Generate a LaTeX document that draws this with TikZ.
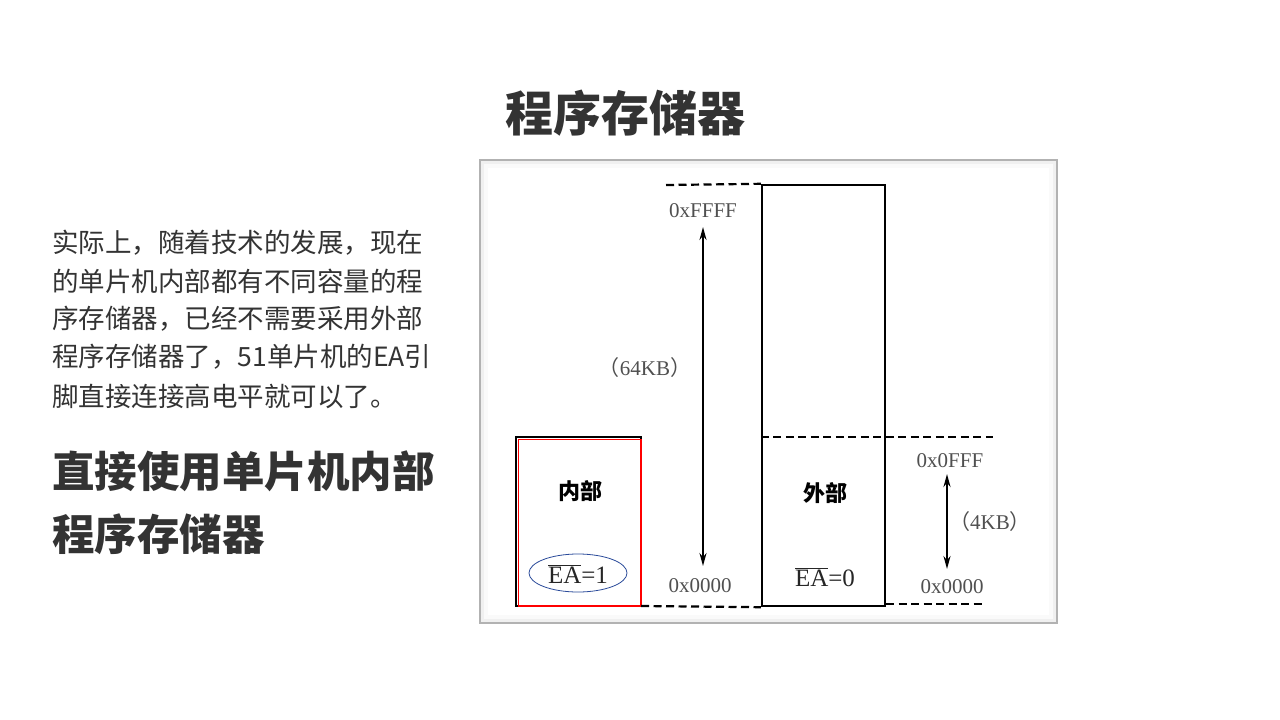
\documentclass[tikz,border=0pt]{standalone}
\usepackage{fontspec}
\usetikzlibrary{shapes.geometric,arrows.meta}
\setmainfont{Liberation Serif}
\newfontfamily\cjk{Noto Sans CJK SC}
\definecolor{slidetext}{HTML}{333333}
\definecolor{labelgray}{HTML}{505050}
\definecolor{ringblue}{HTML}{2A4A9A}
\begin{document}
\begin{tikzpicture}[>={Stealth[length=13pt,width=7pt]},x=1pt,y=-1pt,every node/.style={inner sep=0pt},
  bodyline/.style={anchor=west,text=slidetext,font=\cjk\fontsize{26.5}{30}\selectfont},
  headline/.style={anchor=west,text=slidetext,font=\cjk\bfseries\fontsize{42.5}{48}\selectfont},
  addr/.style={text=labelgray,font=\fontsize{21}{24}\selectfont},
  region/.style={font=\cjk\bfseries\fontsize{22}{24}\selectfont},
  memrange/.style={line width=2pt,<->},
  boundary/.style={line width=2.2pt,dash pattern=on 8pt off 4.5pt}]
  \useasboundingbox[fill=white] (0,0) rectangle (1280,720);
  % slide text
  \node[text=slidetext,font=\cjk\bfseries\fontsize{48}{54}\selectfont] (title) at (625,113) {程序存储器};
  \node[bodyline] (l1) at (52,243) {实际上，随着技术的发展，现在};
  \node[bodyline] (l2) at (52,281) {的单片机内部都有不同容量的程};
  \node[bodyline] (l3) at (52,319) {序存储器，已经不需要采用外部};
  \node[bodyline] (l4) at (52,357) {程序存储器了，51单片机的EA引};
  \node[bodyline] (l5) at (52,396) {脚直接连接高电平就可以了。};
  \node[headline] (h1) at (52,471) {直接使用单片机内部};
  \node[headline] (h2) at (52,534) {程序存储器};
  % picture frame
  \draw[gray!60,line width=1.8pt,fill=gray!12] (480,160) rectangle (1057,623);
  \fill[gray!4] (484,164) rectangle (1053,619);
  \fill[white] (488,168) rectangle (1049,615);
  % memory boxes
  \node[draw,line width=2.4pt,minimum width=125,minimum height=169] (inbox) at (578.5,521.5) {};
  \draw[red,line width=1.8pt] (518.5,439.5) rectangle (641,606);
  \node[draw,line width=2.4pt,minimum width=123,minimum height=421] (exbox) at (823.5,395.5) {};
  \node[region] (inname) at (580,491) {内部};
  \node[region] (exname) at (825,493) {外部};
  \node[font=\fontsize{25}{28}\selectfont,text=black!85] (ea1) at (578,574) {$\overline{\mbox{EA}}$=1};
  \node[draw=ringblue,line width=0.8pt,ellipse,minimum width=98,minimum height=38] (ring) at (578,573) {};
  \node[font=\fontsize{25}{28}\selectfont,text=black!85] (ea0) at (825,577) {$\overline{\mbox{EA}}$=0};
  % address labels
  \node[addr] (top64) at (703,211) {0xFFFF};
  \node[addr] (bot64) at (700,586) {0x0000};
  \node[addr] (size64) at (645,368) {{\cjk （}64KB{\cjk ）}};
  \node[addr] (top4) at (950,461) {0x0FFF};
  \node[addr] (bot4) at (952,587) {0x0000};
  \node[addr] (size4) at (990,522) {{\cjk （}4KB{\cjk ）}};
  % dashed boundaries
  \coordinate (dtopL) at (666,185);
  \coordinate (dmidR) at (993,437);
  \coordinate (dbotL) at (641,606);
  \coordinate (dbotR) at (985,604);
  \draw[boundary] (dtopL) -- (exbox.north west);
  \draw[boundary] (exbox.west |- dmidR) -- (dmidR);
  \draw[boundary] (dbotL) -- (exbox.south west);
  \draw[boundary] (exbox.south east |- dbotR) -- (dbotR);
  % size arrows
  \coordinate (a64hi) at (703,227);
  \coordinate (a64lo) at (703,566);
  \coordinate (a4hi) at (947,474);
  \coordinate (a4lo) at (947,569);
  \draw[memrange] (a64lo) -- (a64hi);
  \draw[memrange] (a4lo) -- (a4hi);
\end{tikzpicture}
\end{document}
